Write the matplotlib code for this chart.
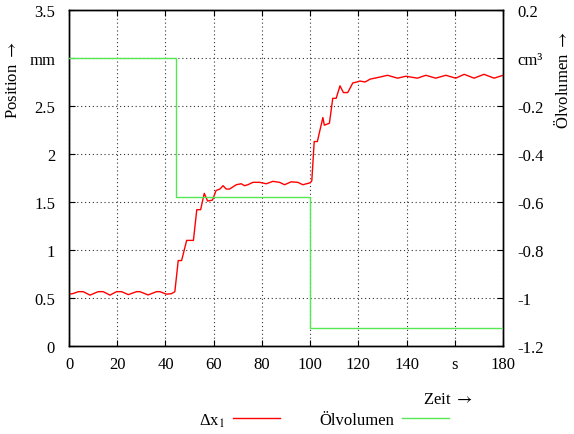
import matplotlib
matplotlib.use("Agg")
import matplotlib.pyplot as plt
from matplotlib.lines import Line2D

plt.rcParams['font.family'] = ['Liberation Serif', 'DejaVu Serif']
plt.rcParams['mathtext.fontset'] = 'stix'
plt.rcParams['font.size'] = 12

# Position of the piston (mm) over time (s)
t_pos = [0, 1.5, 3.9, 5.9, 8.7, 12.1, 14.2, 17, 19.7, 21.8, 24.6, 28, 29.4, 32.8,
         36.3, 37.7, 40.4, 42.5, 43.9, 45.3, 46.7, 48.8, 49.5, 51.6, 53, 54.6,
         56.1, 57.5, 59.5, 61, 62.6, 63.9, 65.2, 66.6, 69.4, 71.4, 72.8, 74.2,
         76.3, 79, 81.8, 84.6, 87.3, 89.4, 92.1, 94.9, 97, 100, 100.7, 101.7,
         103, 105.3, 105.9, 108, 109.4, 110.8, 112.4, 113.8, 115.6, 117.7, 119.4,
         120.7, 122.8, 124.9, 128.7, 132.1, 136.3, 139.7, 144.5, 148, 152.1,
         156.3, 160.4, 163.9, 168, 172.1, 176.3, 180]
pos = [0.54, 0.545, 0.566, 0.566, 0.53, 0.566, 0.566, 0.53, 0.566, 0.566, 0.535,
       0.566, 0.566, 0.532, 0.566, 0.566, 0.54, 0.545, 0.566, 0.89, 0.89, 1.10,
       1.10, 1.10, 1.42, 1.42, 1.59, 1.51, 1.52, 1.62, 1.635, 1.67, 1.635,
       1.635, 1.68, 1.69, 1.67, 1.68, 1.705, 1.705, 1.69, 1.715, 1.705, 1.68,
       1.71, 1.705, 1.68, 1.70, 1.72, 2.13, 2.13, 2.38, 2.30, 2.32, 2.58, 2.58,
       2.71, 2.64, 2.64, 2.74, 2.75, 2.76, 2.75, 2.78, 2.80, 2.82, 2.79, 2.81,
       2.79, 2.82, 2.79, 2.82, 2.79, 2.83, 2.79, 2.83, 2.79, 2.82]

# Oil volume (cm^3), stepwise
t_vol = [0, 44.5, 44.5, 100, 100, 180]
vol = [0.0, 0.0, -0.58, -0.58, -1.125, -1.125]

x_ticks = [0, 20, 40, 60, 80, 100, 120, 140, 160, 180]
x_labels = ['0', '20', '40', '60', '80', '100', '120', '140', 's', '180']
y_ticks = [0, 0.5, 1, 1.5, 2, 2.5, 3, 3.5]
y_labels = ['0', '0.5', '1', '1.5', '2', '2.5', 'mm', '3.5']
y2_ticks = [-1.2, -1.0, -0.8, -0.6, -0.4, -0.2, 0.0, 0.2]
y2_labels = ['-1.2', '-1', '-0.8', '-0.6', '-0.4', '-0.2', 'cm³', '0.2']

W, H = 574, 435
fig = plt.figure(figsize=(W / 100, H / 100), dpi=100)
ax = fig.add_axes([69 / W, 1 - 347 / H, (503 - 69) / W, (347 - 11) / H])
ax2 = ax.twinx()

red = '#ff0000'
green = '#55e855'

ax.plot(t_pos, pos, color=red, lw=1.0, zorder=3)
ax2.plot(t_vol, vol, color=green, lw=1.0, zorder=3)

ax.set_xlim(0, 180)
ax.set_ylim(0, 3.5)
ax2.set_ylim(-1.2, 0.2)

ax.set_xticks(x_ticks)
ax.set_xticklabels(x_labels)
ax.set_yticks(y_ticks)
ax.set_yticklabels(y_labels)
ax2.set_yticks(y2_ticks)
ax2.set_yticklabels(y2_labels)

ax.grid(True, color='#333333', lw=0.8, linestyle=(0, (1, 2.5)))
ax.tick_params(axis='x', direction='in', length=4, pad=7, labelsize=12, top=True)
ax.tick_params(axis='y', direction='in', length=4, pad=10, labelsize=12)
ax2.tick_params(axis='y', direction='in', length=4, pad=10, labelsize=12)
for lbl in ax2.get_yticklabels():
    lbl.set_horizontalalignment('left')

for sp in list(ax.spines.values()) + list(ax2.spines.values()):
    sp.set_linewidth(1.0)
    sp.set_color('black')

fig.text(13 / W, 1 - 80 / H, r'Position $\rightarrow$', rotation=90,
         ha='center', va='center', fontsize=12)
fig.text(563 / W, 1 - 80 / H, r'Ölvolumen $\rightarrow$', rotation=90,
         ha='center', va='center', fontsize=12)
fig.text(473 / W, 1 - 400 / H, r'Zeit $\rightarrow$', ha='right', va='center',
         fontsize=12)

handles = [Line2D([], [], color=red, lw=1.0), Line2D([], [], color=green, lw=1.0)]
fig.legend(handles, [r'Δx$_\mathrm{1}$', 'Ölvolumen'], loc='center',
           bbox_to_anchor=(324 / W, 1 - 421 / H), ncol=2, frameon=False,
           markerfirst=False, handlelength=2.8, handletextpad=0.45,
           columnspacing=2.4, fontsize=12)

fig.savefig('out.png', dpi=100)
